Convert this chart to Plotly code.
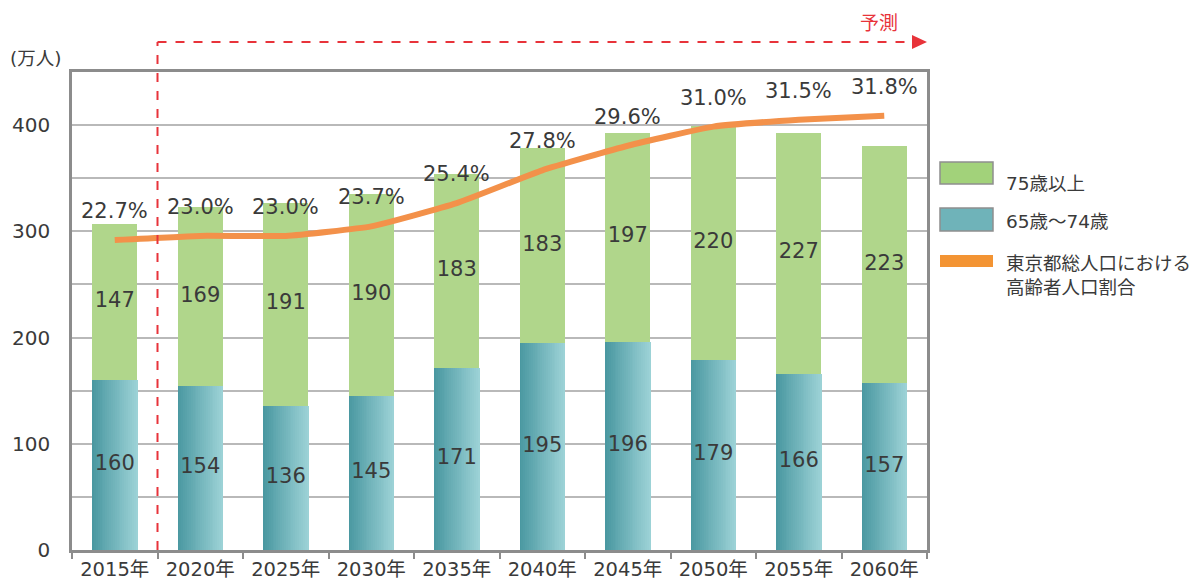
import plotly.graph_objects as go

years = ["2015年", "2020年", "2025年", "2030年", "2035年", "2040年", "2045年", "2050年", "2055年", "2060年"]
age_65_74 = [160, 154, 136, 145, 171, 195, 196, 179, 166, 157]
age_75_plus = [147, 169, 191, 190, 183, 183, 197, 220, 227, 223]
ratio_pct = [22.7, 23.0, 23.0, 23.7, 25.4, 27.8, 29.6, 31.0, 31.5, 31.8]

legend_labels = ["75歳以上", "65歳〜74歳", "東京都総人口における<br>高齢者人口割合"]

FONT = "DejaVu Sans, Noto Sans CJK JP"
CJK = "Noto Sans CJK JP"
TXT = "#3a3a3a"
GREEN = "#b0d68b"
ORANGE = "#f3914a"
RED = "#e8333a"
GRID = "#b9b9b9"
AXIS = "#8c8c8c"

W = 0.53
N = 24


def lerp(c1, c2, t):
    a = [int(c1[i:i + 2], 16) for i in (1, 3, 5)]
    b = [int(c2[i:i + 2], 16) for i in (1, 3, 5)]
    return "rgb(%d,%d,%d)" % tuple(round(a[k] + (b[k] - a[k]) * t) for k in range(3))


fig = go.Figure()

# teal gradient bars (strips)
for i in range(N):
    t = i / (N - 1)
    fig.add_trace(go.Bar(
        x=years, y=age_65_74, base=0,
        offset=-W / 2 + i * W / N, width=W / N * 1.08,
        marker=dict(color=lerp("#4a98a1", "#9cd2d6", t), line=dict(width=0)),
        showlegend=False, hoverinfo="skip"))

# green bars
fig.add_trace(go.Bar(
    x=years, y=age_75_plus, base=age_65_74,
    offset=-W / 2, width=W,
    marker=dict(color=GREEN, line=dict(width=0)),
    showlegend=False, hoverinfo="skip"))

# value labels
fig.add_trace(go.Scatter(
    x=years, y=[v / 2 for v in age_65_74], mode="text",
    text=[str(v) for v in age_65_74],
    textfont=dict(family=FONT, size=21, color=TXT),
    showlegend=False, hoverinfo="skip"))
fig.add_trace(go.Scatter(
    x=years, y=[a + b / 2 for a, b in zip(age_65_74, age_75_plus)], mode="text",
    text=[str(v) for v in age_75_plus],
    textfont=dict(family=FONT, size=21, color=TXT),
    showlegend=False, hoverinfo="skip"))

# ratio line
fig.add_trace(go.Scatter(
    x=years, y=ratio_pct, yaxis="y2", mode="lines",
    line=dict(color=ORANGE, width=6, shape="spline", smoothing=0.4),
    showlegend=False, hoverinfo="skip"))

for yr, p in zip(years, ratio_pct):
    fig.add_annotation(x=yr, y=p, xref="x", yref="y2", yshift=29,
                       text=f"{p:.1f}%", showarrow=False,
                       font=dict(family=FONT, size=21, color=TXT))

fig.update_layout(
    width=1200, height=585,
    margin=dict(l=64, r=281, t=64, b=43),
    paper_bgcolor="white", plot_bgcolor="white",
    barmode="overlay", bargap=0,
    font=dict(family=FONT, size=19, color=TXT),
    xaxis=dict(type="category", categoryorder="array", categoryarray=years,
               tickson="boundaries", ticks="outside", ticklen=6, tickwidth=2,
               tickcolor=AXIS, showline=True, linecolor=AXIS, linewidth=2.5,
               mirror=True, showgrid=False, automargin=False,
               tickfont=dict(family=FONT, size=19.5, color=TXT)),
    yaxis=dict(range=[0, 450], dtick=100, tick0=0, showline=True,
               linecolor=AXIS, linewidth=2.5, mirror=True,
               showgrid=True, gridcolor=GRID, gridwidth=1.6,
               minor=dict(dtick=50, showgrid=True, gridcolor=GRID, gridwidth=1.6),
               ticks="", ticklabelstandoff=15, zeroline=False, automargin=False,
               tickfont=dict(family=FONT, size=20, color=TXT)),
    yaxis2=dict(range=[0, 35], overlaying="y", visible=False),
)


def px_x(x):
    return (x - 72) / 855


def px_y(y):
    return (550 - y) / 478


# forecast dashed line and arrow
ytop = px_y(42)
fig.add_shape(type="line", xref="x", yref="paper", x0=0.5, x1=0.5, y0=0, y1=ytop,
              line=dict(color=RED, width=2, dash="dash"))
fig.add_shape(type="line", xref="x", yref="paper", x0=0.5, x1=9.33, y0=ytop, y1=ytop,
              line=dict(color=RED, width=2, dash="dash"))
fig.add_shape(type="path", xref="paper", yref="paper",
              path=f"M {px_x(912)} {px_y(35)} L 1 {ytop} L {px_x(912)} {px_y(49)} Z",
              fillcolor=RED, line=dict(width=0))
fig.add_annotation(xref="paper", yref="paper", x=px_x(900), y=px_y(21),
                   xanchor="right", yanchor="middle", text="予測", showarrow=False,
                   font=dict(family=CJK, size=19, color=RED))

# unit label
fig.add_annotation(xref="paper", yref="paper", x=px_x(8), y=px_y(58),
                   xanchor="left", yanchor="middle", text="(万人)", showarrow=False,
                   font=dict(family=FONT, size=18.5, color=TXT))

# cut-off title at very top
fig.add_annotation(xref="paper", yref="paper", x=px_x(18), y=px_y(-8),
                   xanchor="left", yanchor="middle", text="東京都の高齢者人口の推移",
                   showarrow=False, font=dict(family=CJK, size=21, color=TXT))

# custom legend
fig.add_shape(type="rect", xref="paper", yref="paper",
              x0=px_x(940), x1=px_x(993), y0=px_y(184), y1=px_y(162),
              fillcolor="#a2d27a", line=dict(color="#8f8f8f", width=1.5))
fig.add_shape(type="rect", xref="paper", yref="paper",
              x0=px_x(940), x1=px_x(993), y0=px_y(231), y1=px_y(208),
              fillcolor="#6fb3b9", line=dict(color="#8f8f8f", width=1.5))
fig.add_shape(type="rect", xref="paper", yref="paper",
              x0=px_x(940), x1=px_x(993), y0=px_y(267), y1=px_y(255),
              fillcolor="#f39433", line=dict(width=0))
for lbl, yc in zip(legend_labels, [183, 221, 275]):
    fig.add_annotation(xref="paper", yref="paper", x=px_x(1004), y=px_y(yc),
                       xanchor="left", yanchor="middle", align="left",
                       text=lbl, showarrow=False,
                       font=dict(family=FONT, size=18.5, color=TXT))

fig.write_html("out.html")
